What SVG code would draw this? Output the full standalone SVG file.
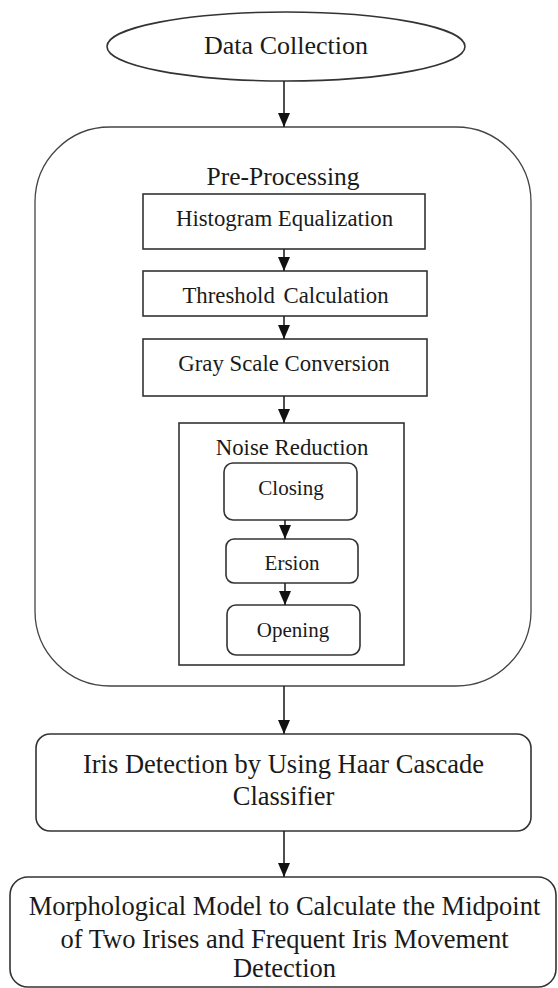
<svg xmlns="http://www.w3.org/2000/svg" width="558" height="988" viewBox="0 0 558 988">
  <style>
    .shape { fill: #ffffff; stroke: #333333; stroke-width: 1.6; }
    .thin { fill: none; stroke: #444444; stroke-width: 1.3; }
    .lbl { font-family: "Liberation Serif", "Times New Roman", serif; fill: #1a1a1a; text-anchor: middle; }
    .big { font-size: 25.5px; }
    .large { font-size: 26.5px; }
    .mid { font-size: 22.8px; }
    .small { font-size: 21px; }
    .conn { stroke: #222222; stroke-width: 1.6; fill: none; marker-end: url(#arrow); }
  </style>
  <defs>
    <marker id="arrow" markerUnits="userSpaceOnUse" markerWidth="14" markerHeight="12" viewBox="0 0 14 12" refX="14" refY="6" orient="auto">
      <path d="M0,0 L14,6 L0,12 Z" fill="#111111"/>
    </marker>
  </defs>
  <rect x="0" y="0" width="558" height="988" fill="#ffffff"/>

  <g id="data-collection">
    <ellipse class="shape" cx="286" cy="46.5" rx="179" ry="34.5"/>
    <text class="lbl" x="286" y="54" font-size="26">Data Collection</text>
  </g>

  <g id="pre-processing">
    <rect class="thin" x="35" y="127" width="496" height="559" rx="75" ry="75"/>
    <text class="lbl big" x="283" y="185">Pre-Processing</text>
  </g>

  <g id="histogram-equalization">
    <rect class="shape" x="143" y="194" width="282" height="55"/>
    <text class="lbl mid" x="284.5" y="226">Histogram Equalization</text>
  </g>

  <g id="threshold-calculation">
    <rect class="shape" x="143" y="271" width="284" height="45"/>
    <text class="lbl mid" x="285.5" y="303" word-spacing="3">Threshold Calculation</text>
  </g>

  <g id="gray-scale-conversion">
    <rect class="shape" x="143" y="339" width="284" height="57"/>
    <text class="lbl mid" x="284" y="371">Gray Scale Conversion</text>
  </g>

  <g id="noise-reduction">
    <rect class="shape" x="179" y="423" width="225" height="242"/>
    <text class="lbl mid" x="292" y="455">Noise Reduction</text>
  </g>

  <g id="closing">
    <rect class="shape" x="224" y="463" width="133" height="57" rx="9" ry="9"/>
    <text class="lbl small" x="291" y="495">Closing</text>
  </g>

  <g id="ersion">
    <rect class="shape" x="226" y="539" width="132" height="44" rx="8" ry="8"/>
    <text class="lbl small" x="292" y="570">Ersion</text>
  </g>

  <g id="opening">
    <rect class="shape" x="227" y="605" width="133" height="50" rx="9" ry="9"/>
    <text class="lbl small" x="293" y="637">Opening</text>
  </g>

  <g id="iris-detection">
    <rect class="shape" x="36" y="734" width="495" height="97" rx="14" ry="14"/>
    <text class="lbl large" x="283.5" y="773">Iris Detection by Using Haar Cascade</text>
    <text class="lbl large" x="283.5" y="805">Classifier</text>
  </g>

  <g id="morphological-model">
    <rect class="shape" x="10" y="877" width="546" height="110" rx="18" ry="18"/>
    <text class="lbl large" x="284.5" y="915">Morphological Model to Calculate the Midpoint</text>
    <text class="lbl large" x="284.5" y="948">of Two Irises and Frequent Iris Movement</text>
    <text class="lbl large" x="284.5" y="977">Detection</text>
  </g>

  <g id="connectors">
    <line class="conn" x1="284" y1="81" x2="284" y2="127"/>
    <line class="conn" x1="284" y1="249" x2="284" y2="271"/>
    <line class="conn" x1="284" y1="316" x2="284" y2="339"/>
    <line class="conn" x1="284" y1="396" x2="284" y2="423"/>
    <line class="conn" x1="285" y1="520" x2="285" y2="539"/>
    <line class="conn" x1="285" y1="583" x2="285" y2="605"/>
    <line class="conn" x1="284" y1="686" x2="284" y2="734"/>
    <line class="conn" x1="284" y1="831" x2="284" y2="877"/>
  </g>
</svg>
